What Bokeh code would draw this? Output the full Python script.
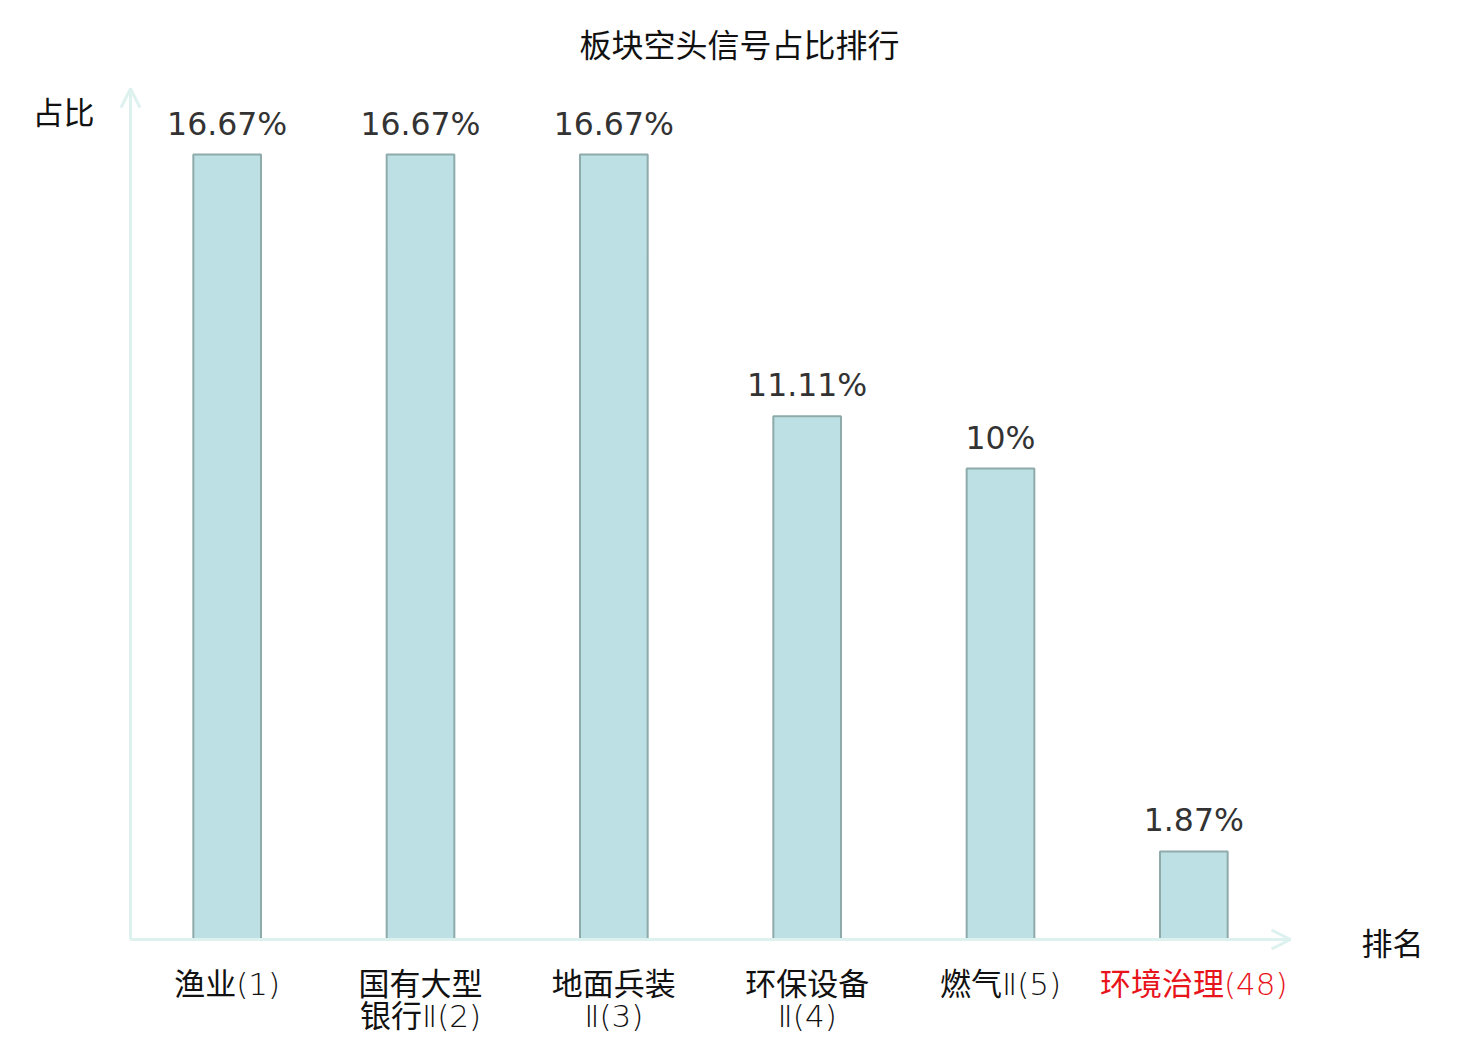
from bokeh.plotting import figure
from bokeh.models import ColumnDataSource, Arrow, OpenHead, Range1d
from bokeh.core.properties import value
from bokeh.embed import file_html
from bokeh.resources import INLINE

title_text = "板块空头信号占比排行"
categories = ["渔业(1)", "国有大型\n银行Ⅱ(2)", "地面兵装\nⅡ(3)", "环保设备\nⅡ(4)", "燃气Ⅱ(5)", "环境治理(48)"]
values = [16.67, 16.67, 16.67, 11.11, 10.0, 1.87]
value_labels = ["16.67%", "16.67%", "16.67%", "11.11%", "10%", "1.87%"]
label_colors = ["#111111", "#111111", "#111111", "#111111", "#111111", "#e8141b"]
y_axis_name = "占比"
x_axis_name = "排名"
y_axis_max = 18.07

# layout in canvas pixels (frame covers the whole canvas)
W, H = 1470, 1038
X0_PX, X1_PX = 130.0, 1290.0      # x axis start / end
Y0_PX = 939.0                      # baseline
PX_PER_UNIT_Y = 47.09
n = len(categories)
px_x = (X1_PX - X0_PX) / n


def dx(px):
    return (px - X0_PX) / px_x


def dy(py):
    return (Y0_PX - py) / PX_PER_UNIT_Y


p = figure(width=W, height=H, output_backend="svg", toolbar_location=None,
           x_range=Range1d(dx(0), dx(W)), y_range=Range1d(dy(H), dy(0)),
           min_border=0, min_border_left=0, min_border_right=0,
           min_border_top=0, min_border_bottom=0)
p.xaxis.visible = False
p.yaxis.visible = False
p.xgrid.visible = False
p.ygrid.visible = False
p.outline_line_color = None
p.background_fill_color = "white"
p.border_fill_color = "white"

xs = [i + 0.5 for i in range(n)]
line1 = [c.split("\n")[0] for c in categories]
line2 = [c.split("\n")[1] if "\n" in c else "" for c in categories]
label_y = [v + 31.0 / PX_PER_UNIT_Y for v in values]
src = ColumnDataSource(dict(x=xs, top=values, l1=line1, l2=line2, vl=value_labels,
                            ly=label_y, col=label_colors))

axis_color = "#ddf1ef"
p.add_layout(Arrow(end=OpenHead(line_color=axis_color, line_width=3, size=19),
                   x_start=0, y_start=0, x_end=n, y_end=0,
                   line_color=axis_color, line_width=3))
p.add_layout(Arrow(end=OpenHead(line_color=axis_color, line_width=3, size=19),
                   x_start=0, y_start=0, x_end=0, y_end=y_axis_max,
                   line_color=axis_color, line_width=3))

p.vbar(x="x", top="top", bottom=0, width=0.35, source=src,
       fill_color="#bce0e3", line_color="#8eaaab", line_width=2)

p.text(x="x", y="ly", text="vl", source=src,
       text_align="center", text_baseline="middle",
       text_font=value("DejaVu Sans"), text_font_size="31.5px", text_color="#333333")

cat_font = value("DejaVu Sans ExtraLight, DejaVu Sans Light, DejaVu Sans, Noto Sans CJK SC")
p.text(x="x", y=dy(983), text="l1", source=src,
       text_align="center", text_baseline="middle",
       text_font=cat_font, text_font_size="31px", text_color="col")
p.text(x="x", y=dy(1015), text="l2", source=src,
       text_align="center", text_baseline="middle",
       text_font=cat_font, text_font_size="31px", text_color="col")

p.text(x=[dx(63)], y=[dy(110)], text=[y_axis_name],
       text_font=value("Noto Sans CJK SC"), text_font_size="31px", text_color="#111111",
       text_align="center", text_baseline="middle")
p.text(x=[dx(1392)], y=[dy(941)], text=[x_axis_name],
       text_font=value("Noto Sans CJK SC"), text_font_size="31px", text_color="#111111",
       text_align="center", text_baseline="middle")
p.text(x=[dx(739)], y=[dy(42)], text=[title_text],
       text_font=value("Noto Sans CJK SC"), text_font_size="32px", text_color="#111111",
       text_align="center", text_baseline="middle")

open("out.html", "w").write(file_html(p, INLINE))
